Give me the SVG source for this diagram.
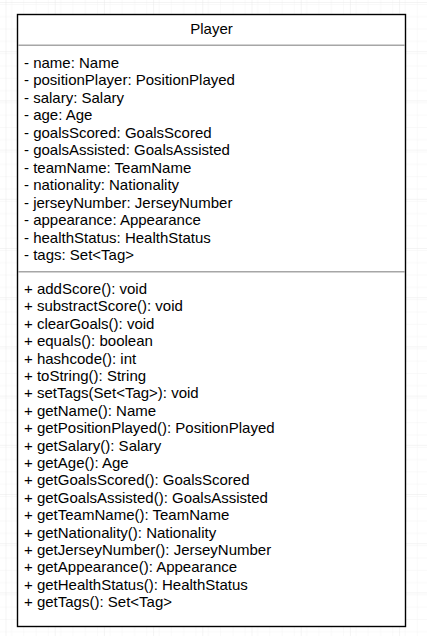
<svg xmlns="http://www.w3.org/2000/svg" width="427" height="636" viewBox="0 0 427 636">
  <defs>
    <!-- light background grid, minor cells with a slightly darker line every 4th -->
    <pattern id="minor" x="5.5" y="2" width="12.3" height="12.3" patternUnits="userSpaceOnUse">
      <path d="M 12.3 0 L 0 0 0 12.3" fill="none" stroke="#f3f3f3" stroke-width="1"/>
    </pattern>
    <pattern id="major" x="5.5" y="2" width="49.2" height="49.2" patternUnits="userSpaceOnUse">
      <rect width="49.2" height="49.2" fill="url(#minor)"/>
      <path d="M 49.2 0 L 0 0 0 49.2" fill="none" stroke="#e9e9e9" stroke-width="1"/>
    </pattern>
  </defs>
  <style>
    .box { fill: #ffffff; stroke: #000000; stroke-width: 1.4; }
    .sep { stroke: #a6a6a6; stroke-width: 1.6; }
    .title { font-family: "Liberation Sans", Arial, sans-serif; font-size: 15px; fill: #000000; text-anchor: middle; }
    .member { font-family: "Liberation Sans", Arial, sans-serif; font-size: 15px; fill: #000000; }
  </style>

  <rect width="427" height="636" fill="#ffffff"/>
  <rect width="427" height="636" fill="url(#major)"/>

  <!-- UML class: Player -->
  <g id="player">
    <rect class="box" x="17.5" y="14.5" width="388" height="612"/>
    <text class="title" x="211.5" y="34">Player</text>
    <line class="sep" x1="18" y1="45.2" x2="405" y2="45.2"/>

    <g id="player-attributes">
      <text class="member" x="24" y="67.5">- name: Name</text>
      <text class="member" x="24" y="85">- positionPlayer: PositionPlayed</text>
      <text class="member" x="24" y="102.5">- salary: Salary</text>
      <text class="member" x="24" y="120">- age: Age</text>
      <text class="member" x="24" y="137.5">- goalsScored: GoalsScored</text>
      <text class="member" x="24" y="155">- goalsAssisted: GoalsAssisted</text>
      <text class="member" x="24" y="172.5">- teamName: TeamName</text>
      <text class="member" x="24" y="190">- nationality: Nationality</text>
      <text class="member" x="24" y="207.5">- jerseyNumber: JerseyNumber</text>
      <text class="member" x="24" y="225">- appearance: Appearance</text>
      <text class="member" x="24" y="242.5">- healthStatus: HealthStatus</text>
      <text class="member" x="24" y="260">- tags: Set&lt;Tag&gt;</text>
    </g>

    <line class="sep" x1="18" y1="271.8" x2="405" y2="271.8"/>

    <g id="player-operations">
      <text class="member" x="24" y="294">+ addScore(): void</text>
      <text class="member" x="24" y="311.4">+ substractScore(): void</text>
      <text class="member" x="24" y="328.8">+ clearGoals(): void</text>
      <text class="member" x="24" y="346.2">+ equals(): boolean</text>
      <text class="member" x="24" y="363.6">+ hashcode(): int</text>
      <text class="member" x="24" y="381">+ toString(): String</text>
      <text class="member" x="24" y="398.4">+ setTags(Set&lt;Tag&gt;): void</text>
      <text class="member" x="24" y="415.8">+ getName(): Name</text>
      <text class="member" x="24" y="433.2">+ getPositionPlayed(): PositionPlayed</text>
      <text class="member" x="24" y="450.6">+ getSalary(): Salary</text>
      <text class="member" x="24" y="468">+ getAge(): Age</text>
      <text class="member" x="24" y="485.4">+ getGoalsScored(): GoalsScored</text>
      <text class="member" x="24" y="502.8">+ getGoalsAssisted(): GoalsAssisted</text>
      <text class="member" x="24" y="520.2">+ getTeamName(): TeamName</text>
      <text class="member" x="24" y="537.6">+ getNationality(): Nationality</text>
      <text class="member" x="24" y="555">+ getJerseyNumber(): JerseyNumber</text>
      <text class="member" x="24" y="572.4">+ getAppearance(): Appearance</text>
      <text class="member" x="24" y="589.8">+ getHealthStatus(): HealthStatus</text>
      <text class="member" x="24" y="607.2">+ getTags(): Set&lt;Tag&gt;</text>
    </g>
  </g>

  <!-- no connectors in this diagram -->
  <g id="connectors"/>
</svg>
